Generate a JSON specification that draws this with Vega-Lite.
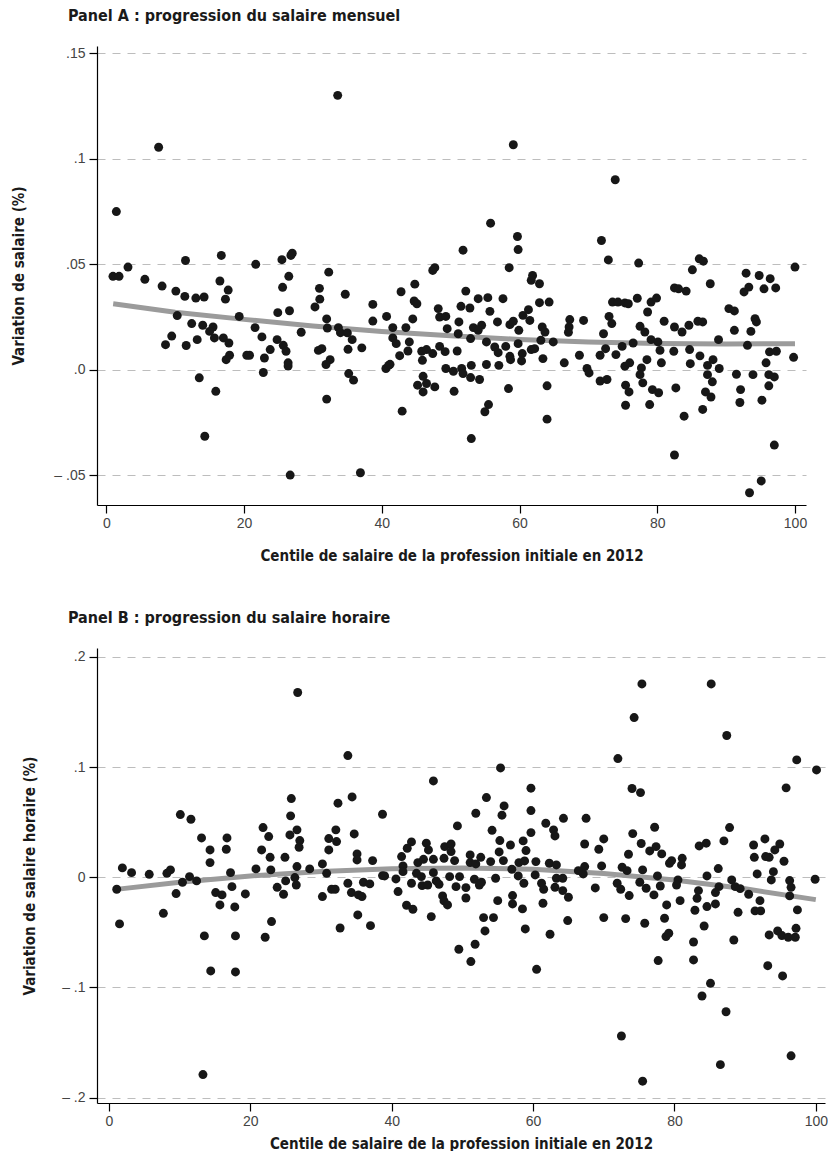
{
"$schema": "https://vega.github.io/schema/vega-lite/v6.json",
"background": "white",
"autosize": {"type": "pad"},
"padding": {"left": 11, "top": 8, "right": 0, "bottom": 0},
"bounds": "flush",
"spacing": 143,
"config": {
  "view": {"stroke": null},
  "axis": {"domainColor": "#000000", "tickColor": "#000000", "tickSize": 8, "domainWidth": 1.2, "tickWidth": 1.2,
    "labelFont": "Liberation Sans", "labelFontSize": 14, "labelColor": "#444444",
    "titleFont": "Liberation Sans Narrow, DejaVu Sans Condensed, sans-serif", "titleFontSize": 15, "titleFontWeight": "bold", "titleColor": "#1a1a1a"},
  "title": {"font": "Liberation Sans Narrow, DejaVu Sans Condensed, sans-serif", "fontSize": 16, "fontWeight": "bold", "color": "#1a1a1a", "anchor": "start", "frame": "group", "baseline": "bottom"}
},
"datasets": {
"a": [
{"x":7.6,"y":0.1054},{"x":1.46,"y":0.0749},{"x":0.97,"y":0.0442},{"x":1.85,"y":0.0442},{"x":3.15,"y":0.0486},{"x":5.6,"y":0.0428},{"x":8.1,"y":0.0396},{"x":10.1,"y":0.0372},{"x":11.4,"y":0.0347},{"x":13.0,"y":0.0339},{"x":14.2,"y":0.0344},{"x":11.5,"y":0.0517},{"x":16.7,"y":0.0541},{"x":16.5,"y":0.042},{"x":17.7,"y":0.0377},{"x":17.3,"y":0.0334},{"x":19.3,"y":0.0252},{"x":10.3,"y":0.0256},{"x":12.4,"y":0.0218},{"x":14.0,"y":0.021},{"x":15.5,"y":0.0202},{"x":15.0,"y":0.0181},{"x":15.7,"y":0.015},{"x":17.0,"y":0.015},{"x":17.8,"y":0.0126},{"x":9.5,"y":0.0159},{"x":8.6,"y":0.0118},{"x":11.6,"y":0.0114},{"x":13.2,"y":0.0142},{"x":17.9,"y":0.0068},{"x":17.4,"y":0.0047},{"x":20.4,"y":0.0068},{"x":13.5,"y":-0.0039},{"x":15.9,"y":-0.0103},{"x":14.3,"y":-0.0316},
{"x":33.6,"y":0.130},{"x":21.7,"y":0.0499},{"x":25.5,"y":0.0521},{"x":26.8,"y":0.0541},{"x":27.0,"y":0.0552},{"x":26.5,"y":0.0442},{"x":25.6,"y":0.039},{"x":24.9,"y":0.027},{"x":26.6,"y":0.0279},{"x":32.3,"y":0.0462},{"x":30.95,"y":0.0385},{"x":31.0,"y":0.0334},{"x":30.3,"y":0.0297},{"x":34.7,"y":0.0357},{"x":38.7,"y":0.0309},{"x":38.7,"y":0.023},{"x":40.7,"y":0.0252},{"x":21.6,"y":0.0199},{"x":22.6,"y":0.0155},{"x":24.8,"y":0.0142},{"x":23.8,"y":0.0095},{"x":25.7,"y":0.0115},{"x":26.1,"y":0.0087},{"x":28.3,"y":0.0177},{"x":32.0,"y":0.024},{"x":32.1,"y":0.0197},{"x":33.7,"y":0.0199},{"x":34.0,"y":0.0175},{"x":35.0,"y":0.0174},{"x":35.7,"y":0.0142},{"x":35.1,"y":0.0096},{"x":37.1,"y":0.0103},{"x":30.8,"y":0.0091},{"x":31.3,"y":0.0099},{"x":20.8,"y":0.0068},{"x":22.96,"y":0.0055},{"x":22.8,"y":-0.0014},{"x":26.4,"y":0.0032},{"x":26.4,"y":0.0017},{"x":32.5,"y":0.0047},{"x":31.9,"y":0.0024},{"x":35.2,"y":-0.0019},{"x":35.9,"y":-0.005},{"x":40.6,"y":0.0005},{"x":41.0,"y":0.002},{"x":32.0,"y":-0.014},{"x":26.7,"y":-0.050},{"x":36.9,"y":-0.0489},
{"x":59.1,"y":0.1066},{"x":55.8,"y":0.0694},{"x":59.7,"y":0.0631},{"x":59.8,"y":0.0569},{"x":51.8,"y":0.0566},{"x":58.5,"y":0.0483},{"x":47.4,"y":0.047},{"x":47.7,"y":0.0483},{"x":44.8,"y":0.0405},{"x":42.8,"y":0.0369},{"x":44.7,"y":0.0325},{"x":45.1,"y":0.0312},{"x":44.5,"y":0.024},{"x":41.6,"y":0.0199},{"x":43.5,"y":0.0199},{"x":41.6,"y":0.015},{"x":42.1,"y":0.0123},{"x":44.0,"y":0.0131},{"x":43.8,"y":0.0088},{"x":42.6,"y":0.0066},{"x":41.2,"y":0.0025},{"x":45.8,"y":0.0087},{"x":45.9,"y":0.0044},{"x":46.5,"y":0.0095},{"x":47.4,"y":0.0076},{"x":48.2,"y":0.0289},{"x":48.4,"y":0.0249},{"x":49.3,"y":0.0252},{"x":48.4,"y":0.011},{"x":49.2,"y":0.0085},{"x":49.5,"y":0.0194},{"x":51.2,"y":0.0226},{"x":51.5,"y":0.030},{"x":52.2,"y":0.0372},{"x":52.8,"y":0.0292},{"x":51.1,"y":0.017},{"x":50.95,"y":0.0088},{"x":52.9,"y":0.0147},{"x":53.3,"y":0.0199},{"x":54.0,"y":0.0336},{"x":55.4,"y":0.0341},{"x":55.7,"y":0.0276},{"x":54.5,"y":0.021},{"x":54.0,"y":0.0186},{"x":55.2,"y":0.0131},{"x":56.4,"y":0.0107},{"x":56.8,"y":0.0226},{"x":57.6,"y":0.0336},{"x":58.6,"y":0.0213},{"x":59.1,"y":0.0229},{"x":59.9,"y":0.0186},{"x":58.0,"y":0.011},{"x":59.8,"y":0.0123},{"x":56.9,"y":0.008},{"x":58.6,"y":0.0063},{"x":58.7,"y":0.0047},{"x":60.4,"y":0.0076},{"x":60.3,"y":0.0041},{"x":60.5,"y":0.0257},{"x":61.3,"y":0.0284},{"x":61.5,"y":0.0233},{"x":61.7,"y":0.0423},{"x":61.9,"y":0.0446},{"x":61.7,"y":0.0095},{"x":49.3,"y":0.0005},{"x":50.4,"y":-0.0008},{"x":51.6,"y":0.0005},{"x":51.8,"y":-0.0019},{"x":53.0,"y":0.002},{"x":52.9,"y":-0.0038},{"x":54.2,"y":-0.0047},{"x":55.2,"y":0.0024},{"x":57.0,"y":0.002},{"x":45.2,"y":-0.0074},{"x":46.0,"y":-0.0032},{"x":46.5,"y":-0.0066},{"x":46.0,"y":-0.0106},{"x":47.7,"y":-0.0082},{"x":50.5,"y":-0.0103},{"x":58.4,"y":-0.009},{"x":55.5,"y":-0.0166},{"x":54.97,"y":-0.02},{"x":42.96,"y":-0.0197},{"x":53.0,"y":-0.0327},
{"x":73.9,"y":0.090},{"x":71.9,"y":0.0612},{"x":72.9,"y":0.052},{"x":77.3,"y":0.0505},{"x":62.9,"y":0.0407},{"x":62.9,"y":0.0317},{"x":64.3,"y":0.032},{"x":63.3,"y":0.0202},{"x":63.7,"y":0.0178},{"x":63.1,"y":0.0139},{"x":62.2,"y":0.0099},{"x":64.9,"y":0.0131},{"x":63.4,"y":0.0052},{"x":64.0,"y":-0.0077},{"x":64.0,"y":-0.0235},{"x":67.3,"y":0.0237},{"x":67.2,"y":0.0202},{"x":67.1,"y":0.0177},{"x":69.3,"y":0.0233},{"x":66.5,"y":0.0032},{"x":68.7,"y":0.0068},{"x":69.8,"y":0.0005},{"x":70.1,"y":-0.0016},{"x":71.7,"y":0.0068},{"x":72.5,"y":0.0099},{"x":72.2,"y":0.017},{"x":73.0,"y":0.0252},{"x":73.4,"y":0.0218},{"x":73.5,"y":0.032},{"x":74.3,"y":0.032},{"x":75.3,"y":0.0316},{"x":75.8,"y":0.0312},{"x":77.1,"y":0.0338},{"x":78.6,"y":0.0273},{"x":79.1,"y":0.032},{"x":79.9,"y":0.0339},{"x":74.0,"y":0.0071},{"x":74.9,"y":0.011},{"x":76.5,"y":0.0126},{"x":75.3,"y":0.0016},{"x":76.0,"y":0.0032},{"x":77.5,"y":0.0205},{"x":78.2,"y":0.0178},{"x":79.1,"y":0.0142},{"x":80.1,"y":0.0131},{"x":81.0,"y":0.0229},{"x":80.4,"y":0.0091},{"x":78.5,"y":0.0047},{"x":77.7,"y":0.0008},{"x":77.5,"y":-0.0024},{"x":80.6,"y":0.0032},{"x":71.7,"y":-0.0054},{"x":72.7,"y":-0.0047},{"x":75.4,"y":-0.0074},{"x":75.9,"y":-0.0106},{"x":77.9,"y":-0.0063},{"x":79.3,"y":-0.0095},{"x":80.2,"y":-0.011},{"x":75.4,"y":-0.0169},{"x":78.9,"y":-0.0166},{"x":82.5,"y":0.0387},{"x":82.5,"y":0.0202},{"x":82.4,"y":0.0087},{"x":82.7,"y":-0.0087},{"x":82.5,"y":-0.0405},
{"x":86.1,"y":0.0525},{"x":86.7,"y":0.0514},{"x":85.1,"y":0.0473},{"x":87.7,"y":0.0407},{"x":83.1,"y":0.0383},{"x":84.2,"y":0.0372},{"x":83.6,"y":0.0178},{"x":84.6,"y":0.021},{"x":85.9,"y":0.0229},{"x":86.6,"y":0.0226},{"x":88.9,"y":0.0142},{"x":90.4,"y":0.0289},{"x":91.2,"y":0.0278},{"x":91.2,"y":0.0186},{"x":92.9,"y":0.0457},{"x":93.3,"y":0.0391},{"x":92.6,"y":0.0368},{"x":94.8,"y":0.0446},{"x":96.4,"y":0.0431},{"x":95.5,"y":0.0383},{"x":97.2,"y":0.0387},{"x":94.2,"y":0.0241},{"x":94.4,"y":0.0226},{"x":93.6,"y":0.0181},{"x":93.1,"y":0.0115},{"x":100,"y":0.0486},{"x":99.8,"y":0.0058},{"x":84.7,"y":0.0095},{"x":86.2,"y":0.0065},{"x":84.8,"y":0.0028},{"x":87.3,"y":0.002},{"x":88.1,"y":0.0047},{"x":89.0,"y":0.0005},{"x":87.3,"y":-0.0024},{"x":88.0,"y":-0.0058},{"x":91.5,"y":-0.0022},{"x":93.9,"y":-0.0024},{"x":95.8,"y":0.0032},{"x":96.3,"y":0.0084},{"x":97.3,"y":0.0087},{"x":96.2,"y":-0.0024},{"x":97.0,"y":-0.0035},{"x":96.2,"y":-0.0077},{"x":87.0,"y":-0.0106},{"x":87.8,"y":-0.013},{"x":92.1,"y":-0.0095},{"x":92.0,"y":-0.0156},{"x":95.2,"y":-0.0145},{"x":83.9,"y":-0.0221},{"x":86.6,"y":-0.0189},{"x":97.0,"y":-0.0358},{"x":95.1,"y":-0.0528},{"x":93.4,"y":-0.0584}
],
"fa": [
{"x":1,"y":0.0312},{"x":10,"y":0.0272},{"x":20,"y":0.0238},{"x":30,"y":0.0207},{"x":40,"y":0.0181},{"x":50,"y":0.016},{"x":60,"y":0.0143},{"x":70,"y":0.0131},{"x":80,"y":0.0124},{"x":90,"y":0.0121},{"x":100,"y":0.0123}
],
"b": [
{"x":1.1,"y":-0.0109},{"x":1.5,"y":-0.0423},{"x":1.9,"y":0.0085},{"x":3.2,"y":0.0042},{"x":5.7,"y":0.0027},{"x":8.2,"y":0.0036},{"x":8.7,"y":0.0067},{"x":7.7,"y":-0.0327},{"x":9.5,"y":-0.0148},{"x":10.1,"y":0.0569},{"x":11.6,"y":0.0526},{"x":10.4,"y":-0.0045},{"x":11.4,"y":0.0006},{"x":12.4,"y":-0.0033},{"x":13.1,"y":0.0357},{"x":14.3,"y":0.0248},{"x":14.3,"y":0.0133},{"x":16.7,"y":0.0357},{"x":16.6,"y":0.0254},{"x":17.2,"y":0.0042},{"x":17.4,"y":-0.0085},{"x":15.1,"y":-0.0139},{"x":16.0,"y":-0.016},{"x":15.7,"y":-0.0251},{"x":17.8,"y":-0.0269},{"x":19.3,"y":-0.0151},{"x":13.5,"y":-0.0532},{"x":17.9,"y":-0.0532},{"x":14.4,"y":-0.085},{"x":17.9,"y":-0.0859},{"x":13.3,"y":-0.179},
{"x":26.7,"y":0.1676},{"x":33.8,"y":0.1104},{"x":25.8,"y":0.0714},{"x":25.7,"y":0.0557},{"x":34.4,"y":0.0729},{"x":32.4,"y":0.0672},{"x":38.7,"y":0.0572},{"x":21.8,"y":0.0451},{"x":22.6,"y":0.0369},{"x":21.6,"y":0.0248},{"x":22.8,"y":0.0181},{"x":20.8,"y":0.0076},{"x":22.9,"y":0.0067},{"x":24.9,"y":0.0181},{"x":25.6,"y":0.0384},{"x":26.6,"y":0.043},{"x":27.0,"y":0.0333},{"x":26.9,"y":0.0272},{"x":26.6,"y":0.0097},{"x":26.3,"y":-0.0003},{"x":26.5,"y":-0.007},{"x":25.0,"y":-0.0033},{"x":23.8,"y":-0.0091},{"x":24.7,"y":-0.0154},{"x":28.4,"y":0.0076},{"x":30.2,"y":0.0121},{"x":30.8,"y":0.0036},{"x":32.1,"y":0.043},{"x":31.1,"y":0.0351},{"x":32.2,"y":0.0324},{"x":31.1,"y":0.0248},{"x":34.7,"y":0.0393},{"x":35.1,"y":0.0212},{"x":35.1,"y":0.0157},{"x":37.3,"y":0.0151},{"x":38.7,"y":0.0015},{"x":30.2,"y":-0.0175},{"x":31.5,"y":-0.0109},{"x":32.0,"y":-0.0109},{"x":33.8,"y":-0.0054},{"x":34.3,"y":-0.0139},{"x":35.3,"y":-0.016},{"x":35.8,"y":-0.0175},{"x":36.0,"y":-0.0045},{"x":36.9,"y":-0.006},{"x":35.2,"y":-0.0342},{"x":37.0,"y":-0.0439},{"x":32.7,"y":-0.046},{"x":23.0,"y":-0.0402},{"x":22.1,"y":-0.0544},
{"x":55.4,"y":0.0992},{"x":45.9,"y":0.0874},{"x":53.4,"y":0.0723},{"x":55.9,"y":0.0647},{"x":55.6,"y":0.0563},{"x":51.9,"y":0.0581},{"x":49.3,"y":0.0466},{"x":59.7,"y":0.0808},{"x":59.7,"y":0.0605},{"x":59.7,"y":0.0405},{"x":54.2,"y":0.0426},{"x":55.3,"y":0.0333},{"x":56.8,"y":0.0293},{"x":55.2,"y":0.023},{"x":55.8,"y":0.0151},{"x":58.6,"y":0.033},{"x":59.0,"y":0.0242},{"x":58.0,"y":0.0133},{"x":58.8,"y":0.0148},{"x":42.8,"y":0.0321},{"x":42.2,"y":0.0263},{"x":41.4,"y":0.0188},{"x":44.9,"y":0.0309},{"x":45.2,"y":0.0248},{"x":47.5,"y":0.0278},{"x":48.4,"y":0.0302},{"x":48.4,"y":0.0233},{"x":43.7,"y":0.0133},{"x":44.5,"y":0.0163},{"x":45.9,"y":0.0163},{"x":47.4,"y":0.0172},{"x":48.9,"y":0.0151},{"x":51.1,"y":0.0203},{"x":52.6,"y":0.0181},{"x":54.0,"y":0.0142},{"x":51.1,"y":0.0133},{"x":51.9,"y":0.0121},{"x":39.0,"y":0.0012},{"x":41.6,"y":0.0103},{"x":41.6,"y":0.0051},{"x":40.6,"y":-0.0015},{"x":40.9,"y":-0.013},{"x":42.8,"y":-0.0054},{"x":43.5,"y":0.0036},{"x":44.2,"y":0.0006},{"x":44.3,"y":-0.0076},{"x":45.1,"y":-0.007},{"x":45.9,"y":0.0042},{"x":46.3,"y":-0.0033},{"x":46.7,"y":-0.0064},{"x":48.2,"y":0.0006},{"x":49.6,"y":0.0006},{"x":49.1,"y":-0.0085},{"x":50.5,"y":-0.0094},{"x":50.5,"y":-0.0188},{"x":51.7,"y":-0.0018},{"x":52.4,"y":-0.007},{"x":52.7,"y":-0.0045},{"x":54.7,"y":-0.0009},{"x":57.0,"y":0.0073},{"x":57.9,"y":0.0012},{"x":58.7,"y":-0.0054},{"x":47.2,"y":-0.0169},{"x":47.4,"y":-0.0215},{"x":47.9,"y":-0.0251},{"x":42.1,"y":-0.0254},{"x":43.0,"y":-0.029},{"x":45.6,"y":-0.0357},{"x":55.0,"y":-0.0212},{"x":57.1,"y":-0.0166},{"x":57.1,"y":-0.0242},{"x":58.5,"y":-0.0287},{"x":53.0,"y":-0.0366},{"x":54.4,"y":-0.0366},{"x":53.2,"y":-0.0487},{"x":58.9,"y":-0.0469},{"x":51.8,"y":-0.0608},{"x":49.5,"y":-0.0653},{"x":51.2,"y":-0.0765},
{"x":75.4,"y":0.1754},{"x":74.3,"y":0.1449},{"x":72.0,"y":0.1077},{"x":74.0,"y":0.0805},{"x":75.2,"y":0.0768},{"x":77.2,"y":0.0454},{"x":67.5,"y":0.0535},{"x":64.3,"y":0.0535},{"x":61.8,"y":0.049},{"x":62.9,"y":0.043},{"x":63.1,"y":0.0375},{"x":60.4,"y":0.0142},{"x":62.3,"y":0.0127},{"x":63.3,"y":0.0112},{"x":60.3,"y":0.0021},{"x":61.2,"y":-0.0054},{"x":61.5,"y":-0.0109},{"x":63.3,"y":-0.0009},{"x":64.2,"y":-0.0009},{"x":63.1,"y":-0.0091},{"x":64.2,"y":-0.0121},{"x":65.0,"y":-0.0181},{"x":61.4,"y":-0.0236},{"x":64.9,"y":-0.0393},{"x":62.4,"y":-0.0517},{"x":60.5,"y":-0.0835},{"x":67.3,"y":0.0302},{"x":70.0,"y":0.0348},{"x":69.3,"y":0.0254},{"x":67.3,"y":0.0097},{"x":67.1,"y":0.003},{"x":66.4,"y":0.006},{"x":69.7,"y":0.0103},{"x":68.8,"y":-0.0097},{"x":70.0,"y":-0.0366},{"x":74.1,"y":0.0396},{"x":75.3,"y":0.0306},{"x":73.5,"y":0.0209},{"x":76.5,"y":0.0239},{"x":77.4,"y":0.0278},{"x":78.2,"y":0.0212},{"x":79.3,"y":0.0127},{"x":72.6,"y":0.0091},{"x":73.3,"y":0.006},{"x":71.9,"y":-0.0054},{"x":72.4,"y":-0.0109},{"x":73.6,"y":-0.0166},{"x":75.5,"y":0.0067},{"x":75.1,"y":-0.0045},{"x":76.0,"y":-0.01},{"x":77.6,"y":0.0012},{"x":78.0,"y":-0.0079},{"x":77.1,"y":-0.016},{"x":78.9,"y":-0.0251},{"x":78.6,"y":-0.0372},{"x":78.8,"y":-0.0538},{"x":79.2,"y":-0.0508},{"x":73.1,"y":-0.0375},{"x":75.8,"y":-0.0417},{"x":77.7,"y":-0.0756},{"x":75.5,"y":-0.185},{"x":72.5,"y":-0.144},
{"x":85.2,"y":0.1754},{"x":87.4,"y":0.1286},{"x":97.3,"y":0.1065},{"x":100.1,"y":0.0974},{"x":95.8,"y":0.0811},{"x":87.8,"y":0.0451},{"x":83.5,"y":0.0284},{"x":84.5,"y":0.0309},{"x":87.0,"y":0.033},{"x":91.2,"y":0.0293},{"x":92.8,"y":0.0348},{"x":94.9,"y":0.0302},{"x":94.2,"y":0.0248},{"x":91.3,"y":0.0181},{"x":92.9,"y":0.0188},{"x":93.4,"y":0.0181},{"x":95.5,"y":0.0145},{"x":79.6,"y":0.0151},{"x":81.1,"y":0.0172},{"x":81.0,"y":0.0112},{"x":86.2,"y":0.0079},{"x":84.6,"y":0.0012},{"x":91.7,"y":0.003},{"x":94.0,"y":0.0051},{"x":93.7,"y":-0.0024},{"x":80.5,"y":-0.0024},{"x":80.3,"y":-0.007},{"x":88.1,"y":-0.0024},{"x":88.6,"y":-0.0085},{"x":89.3,"y":-0.0103},{"x":90.5,"y":-0.0154},{"x":96.3,"y":-0.003},{"x":96.5,"y":-0.0091},{"x":96.3,"y":-0.0169},{"x":99.9,"y":-0.0018},{"x":86.3,"y":-0.0085},{"x":85.8,"y":-0.0139},{"x":83.4,"y":-0.0121},{"x":83.2,"y":-0.0191},{"x":80.8,"y":-0.0212},{"x":82.9,"y":-0.0299},{"x":84.6,"y":-0.0266},{"x":85.8,"y":-0.0242},{"x":89.0,"y":-0.0318},{"x":91.4,"y":-0.0305},{"x":92.2,"y":-0.0305},{"x":92.1,"y":-0.0212},{"x":97.4,"y":-0.0296},{"x":84.2,"y":-0.0442},{"x":82.7,"y":-0.0587},{"x":88.4,"y":-0.0569},{"x":93.4,"y":-0.0523},{"x":94.6,"y":-0.0487},{"x":95.2,"y":-0.0529},{"x":96.1,"y":-0.0544},{"x":97.1,"y":-0.0544},{"x":97.2,"y":-0.0463},{"x":82.7,"y":-0.075},{"x":93.2,"y":-0.0802},{"x":95.3,"y":-0.0895},{"x":85.1,"y":-0.0962},{"x":83.9,"y":-0.1077},{"x":87.3,"y":-0.122},{"x":86.5,"y":-0.17},{"x":96.5,"y":-0.162}
],
"fb": [
{"x":1,"y":-0.011},{"x":10,"y":-0.0045},{"x":20,"y":0.0012},{"x":30,"y":0.0052},{"x":40,"y":0.0078},{"x":50,"y":0.0085},{"x":60,"y":0.0072},{"x":70,"y":0.0035},{"x":80,"y":-0.0025},{"x":90,"y":-0.0105},{"x":100,"y":-0.0203}
]
},
"vconcat": [
{
  "width": 709, "height": 459,
  "title": {"text": "Panel A : progression du salaire mensuel", "dx": -29, "offset": 22},
  "encoding": {
    "x": {"field": "x", "type": "quantitative", "scale": {"domain": [-1.35, 101.6], "nice": false, "zero": false},
      "axis": {"values": [0, 20, 40, 60, 80, 100], "format": "d", "grid": false, "labelPadding": 3, "title": "Centile de salaire de la profession initiale en 2012", "titlePadding": 18}},
    "y": {"field": "y", "type": "quantitative", "scale": {"domain": [-0.0642, 0.1534], "nice": false, "zero": false},
      "axis": {"values": [-0.05, 0, 0.05, 0.1, 0.15], "labelExpr": "datum.value > 0.14 ? '.15' : datum.value > 0.09 ? '.1' : datum.value > 0.04 ? '.05' : datum.value > -0.01 ? '.0' : '– .05'",
        "grid": true, "gridDash": [8, 7], "gridColor": "#bdbdbd", "gridWidth": 1, "labelPadding": 4, "title": "Variation de salaire (%)", "titleX": -71}}
  },
  "layer": [
    {"data": {"name": "fa"}, "mark": {"type": "line", "color": "#9b9b9b", "strokeWidth": 5}},
    {"data": {"name": "a"}, "mark": {"type": "circle", "size": 80, "color": "#171717", "opacity": 1}}
  ]
},
{
  "width": 728, "height": 455,
  "title": {"text": "Panel B : progression du salaire horaire", "dx": -29, "offset": 22},
  "encoding": {
    "x": {"field": "x", "type": "quantitative", "scale": {"domain": [-1.69, 101.3], "nice": false, "zero": false},
      "axis": {"values": [0, 20, 40, 60, 80, 100], "format": "d", "grid": false, "labelPadding": 3, "title": "Centile de salaire de la profession initiale en 2012", "titlePadding": 8}},
    "y": {"field": "y", "type": "quantitative", "scale": {"domain": [-0.2048, 0.208], "nice": false, "zero": false},
      "axis": {"values": [-0.2, -0.1, 0, 0.1, 0.2], "labelExpr": "datum.value > 0.15 ? '.2' : datum.value > 0.05 ? '.1' : datum.value > -0.05 ? '0' : datum.value > -0.15 ? '– .1' : '– .2'",
        "grid": true, "gridDash": [8, 7], "gridColor": "#bdbdbd", "gridWidth": 1, "labelPadding": 4, "title": "Variation de salaire horaire (%)", "titleX": -60}}
  },
  "layer": [
    {"data": {"name": "fb"}, "mark": {"type": "line", "color": "#9b9b9b", "strokeWidth": 5}},
    {"data": {"name": "b"}, "mark": {"type": "circle", "size": 80, "color": "#171717", "opacity": 1}}
  ]
}
]
}
